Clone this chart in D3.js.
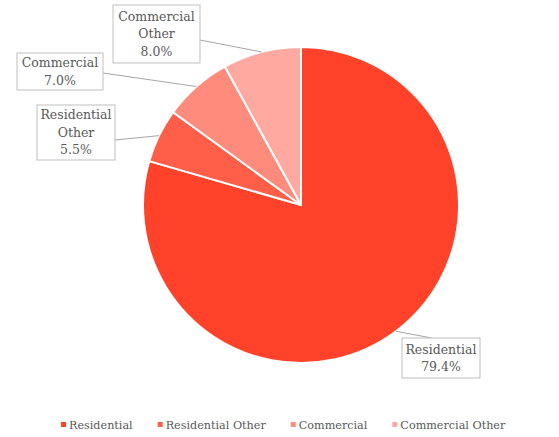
<!DOCTYPE html>
<html>
<head>
<meta charset="utf-8">
<script src="https://cdn.jsdelivr.net/npm/d3@7"></script>
<style>
  body { margin: 0; background: #fff; }
  svg text { font-family: 'DejaVu Serif', 'Liberation Serif', serif; fill: #595959; }
</style>
</head>
<body>
<svg width="559" height="437"></svg>
<script>
const categories = ["Residential", "Residential Other", "Commercial", "Commercial Other"];
const shares = [79.4, 5.5, 7.0, 8.0];
const labelLines = [["Residential"], ["Residential", "Other"], ["Commercial"], ["Commercial", "Other"]];
const colors = ["#FF4229", "#FF5E48", "#FF8B7C", "#FFA9A1"];

const width = 559, height = 437;
const cx = 301, cy = 205, radius = 158;

// label box layout (x, y, w, h) and where the leader touches the box
const boxes = [
    {x: 402, y: 338, w: 78, h: 40, ax: 432, ay: 338},
    {x: 37, y: 105, w: 78, h: 55, ax: 115, ay: 140},
    {x: 17, y: 53, w: 86, h: 37, ax: 103, ay: 73},
    {x: 113, y: 5, w: 87, h: 58, ax: 200, ay: 40}
];

const svg = d3.select("svg");

const data = categories.map((c, i) => ({name: c, value: shares[i], lines: labelLines[i]}));

const pie = d3.pie()
    .sort(null)
    .value(d => d.value);

const arc = d3.arc()
    .innerRadius(0)
    .outerRadius(radius);

const arcs = pie(data);

const g = svg.append("g")
    .attr("transform", `translate(${cx},${cy})`);

g.selectAll("path")
    .data(arcs).join("path")
    .attr("d", arc)
    .attr("fill", (d, i) => colors[i])
    .attr("stroke", "#fff")
    .attr("stroke-width", 2);

//leader lines from slice edge to label boxes
svg.selectAll("line.leader")
    .data(arcs).join("line")
    .attr("class", "leader")
    .attr("x1", (d, i) => boxes[i].ax)
    .attr("y1", (d, i) => boxes[i].ay)
    .attr("x2", d => cx + radius * Math.sin((d.startAngle + d.endAngle) / 2))
    .attr("y2", d => cy - radius * Math.cos((d.startAngle + d.endAngle) / 2))
    .attr("stroke", "#A6A6A6")
    .attr("stroke-width", 1);

const labels = svg.selectAll("g.label")
    .data(arcs).join("g")
    .attr("class", "label")
    .attr("transform", (d, i) => `translate(${boxes[i].x},${boxes[i].y})`);

labels.append("rect")
    .attr("width", (d, i) => boxes[i].w)
    .attr("height", (d, i) => boxes[i].h)
    .attr("fill", "#fff")
    .attr("stroke", "#BFBFBF")
    .attr("stroke-width", 1);

labels.each(function (d, i) {
    const lines = d.data.lines.concat([d.data.value.toFixed(1) + "%"]);
    const lh = 17.5;
    const top = boxes[i].h / 2 - (lines.length - 1) * lh / 2;
    d3.select(this).selectAll("text")
        .data(lines).join("text")
        .attr("x", boxes[i].w / 2)
        .attr("y", (t, k) => top + k * lh)
        .attr("dy", "0.35em")
        .attr("text-anchor", "middle")
        .style("font-size", "12.5px")
        .text(t => t);
});

//legend, centred under the chart
const legend = svg.append("g").attr("class", "legend");
let lx = 0;
categories.forEach((c, i) => {
    const item = legend.append("g").attr("transform", `translate(${lx},0)`);
    item.append("rect")
        .attr("x", 0).attr("y", -3)
        .attr("width", 5).attr("height", 5)
        .attr("fill", colors[i]);
    const t = item.append("text")
        .attr("x", 8)
        .attr("y", 0)
        .attr("dy", "0.35em")
        .style("font-size", "11.2px")
        .text(c);
    lx += 8 + t.node().getComputedTextLength() + 25;
});
lx -= 25;
legend.attr("transform", `translate(${61},425)`);
</script>
</body>
</html>
